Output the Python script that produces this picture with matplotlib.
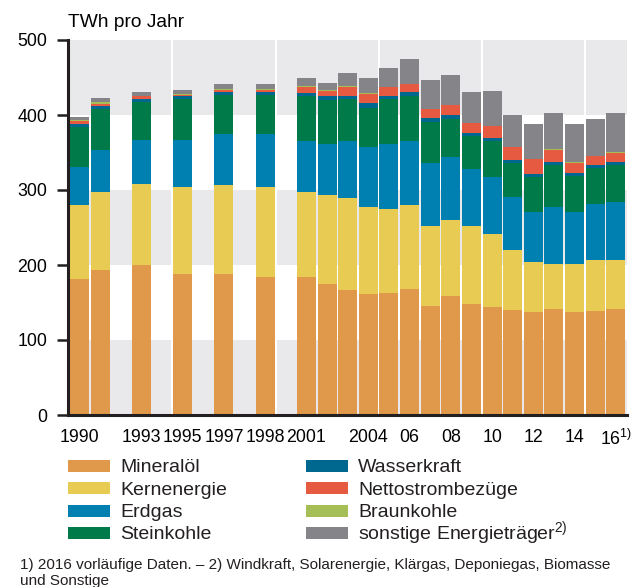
import matplotlib as mpl
import matplotlib.pyplot as plt
from matplotlib.patches import Rectangle
import numpy as np

mpl.rcParams['font.family'] = ['Liberation Sans', 'DejaVu Sans']
mpl.rcParams['mathtext.default'] = 'regular'

# Jahre und ihre Position (Lücken für fehlende Jahre)
years = [1990, 1991, 1993, 1995, 1997, 1998, 2001, 2002, 2003, 2004, 2005,
         2006, 2007, 2008, 2009, 2010, 2011, 2012, 2013, 2014, 2015, 2016]
slots = [0, 1, 3, 5, 7, 9] + list(range(11, 27))

mineraloel = [181, 193, 200, 188, 188, 184, 184, 175, 167, 161, 163,
              168, 145, 159, 148, 144, 140, 137, 141, 137, 139, 141]
kernenergie = [99, 105, 108, 116, 119, 120, 113, 118, 123, 116, 112,
               112, 107, 101, 104, 97, 80, 67, 61, 65, 68, 66]
erdgas = [51, 55, 59, 63, 68, 71, 69, 68, 76, 80, 87,
          85, 84, 84, 76, 76, 71, 67, 75, 69, 75, 77]
steinkohle = [53, 55, 50, 54, 52, 52, 59, 59, 55, 53, 59,
              61, 55, 51, 44, 48, 45, 47, 56, 48, 48, 49]
wasserkraft = [4, 4, 4, 4, 4, 4, 5, 5, 4, 6, 5,
               5, 5, 5, 4, 4, 4, 4, 5, 4, 4, 4]
netto = [4, 3, 4, 2, 3, 3, 8, 7, 13, 12, 11,
         10, 12, 13, 13, 16, 17, 19, 16, 13, 11, 12]
braunkohle = [1, 3, 1, 1, 0.5, 1, 1, 1, 0.5, 1, 0.5,
              1, 0.5, 1, 1, 1, 1, 1, 1, 1, 1, 2]
sonstige = [5, 5, 5, 5, 6.5, 6.5, 11, 10, 17.5, 21, 25,
            33, 38, 39, 41, 46, 42, 46, 48, 51, 49, 52]

series = [mineraloel, kernenergie, erdgas, steinkohle,
          wasserkraft, netto, braunkohle, sonstige]
names = ['Mineralöl', 'Kernenergie', 'Erdgas', 'Steinkohle',
         'Wasserkraft', 'Nettostrombezüge', 'Braunkohle',
         'sonstige Energieträger$^{2)}$']
colors = ['#e0994a', '#e8cb52', '#0080b0', '#007a48',
          '#00678f', '#e55a40', '#a5be55', '#858589']

tick_slots = [0, 3, 5, 7, 9, 11, 14, 16, 18, 20, 22, 24, 26]
tick_labels = ['1990', '1993', '1995', '1997', '1998', '2001', '2004',
               '06', '08', '10', '12', '14', '16$^{1)}$']

W, H = 634, 587
fig = plt.figure(figsize=(W / 100, H / 100), dpi=100)
ax = fig.add_axes([68 / W, 1 - 415 / H, 559 / W, 375 / H])

# Hintergrundbänder
for lo in [0, 200, 400]:
    ax.axhspan(lo, lo + 100, color='#e9e9ec', zorder=0, lw=0)
for xv in [4.5, 9.5, 14.5, 19.5, 24.5]:
    ax.axvline(xv, color='white', lw=1.5, zorder=0.5)

bottom = np.zeros(len(years))
for vals, c in zip(series, colors):
    ax.bar(slots, vals, bottom=bottom, width=0.92, color=c, zorder=2, lw=0)
    bottom += np.array(vals)

ax.set_xlim(-0.56, 26.54)
ax.set_ylim(0, 500)
ax.set_yticks([0, 100, 200, 300, 400, 500])
ax.set_xticks(tick_slots)
ax.set_xticklabels(tick_labels)
ax.tick_params(axis='y', length=8, width=1.8, pad=7, labelsize=12.8, color='#231f20')
ax.tick_params(axis='x', length=0, pad=10, labelsize=12.8)
for s in ['top', 'right']:
    ax.spines[s].set_visible(False)
for s in ['left', 'bottom']:
    ax.spines[s].set_linewidth(2.2)
    ax.spines[s].set_color('#231f20')

fig.text(68 / W, 1 - 27 / H, 'TWh pro Jahr', fontsize=13.8, va='baseline', ha='left')

# Legende von Hand: zwei Spalten zu je vier Einträgen
for i, (name, c) in enumerate(zip(names, colors)):
    col, row = i // 4, i % 4
    yc = 466 + row * 22.3
    x0 = [68, 306][col]
    fig.add_artist(Rectangle((x0 / W, 1 - (yc + 6) / H), 42 / W, 12 / H,
                             transform=fig.transFigure, color=c, lw=0))
    fig.text((x0 + 52) / W, 1 - (yc + 6.5) / H, name, fontsize=14,
             va='baseline', ha='left', color='#231f20')

fig.text(20 / W, 1 - 568.5 / H,
         '1) 2016 vorläufige Daten. – 2) Windkraft, Solarenergie, Klärgas, Deponiegas, Biomasse',
         fontsize=11, va='baseline', ha='left', color='#231f20')
fig.text(20 / W, 1 - 584.5 / H, 'und Sonstige',
         fontsize=11, va='baseline', ha='left', color='#231f20')

fig.savefig('out.png', dpi=100)
